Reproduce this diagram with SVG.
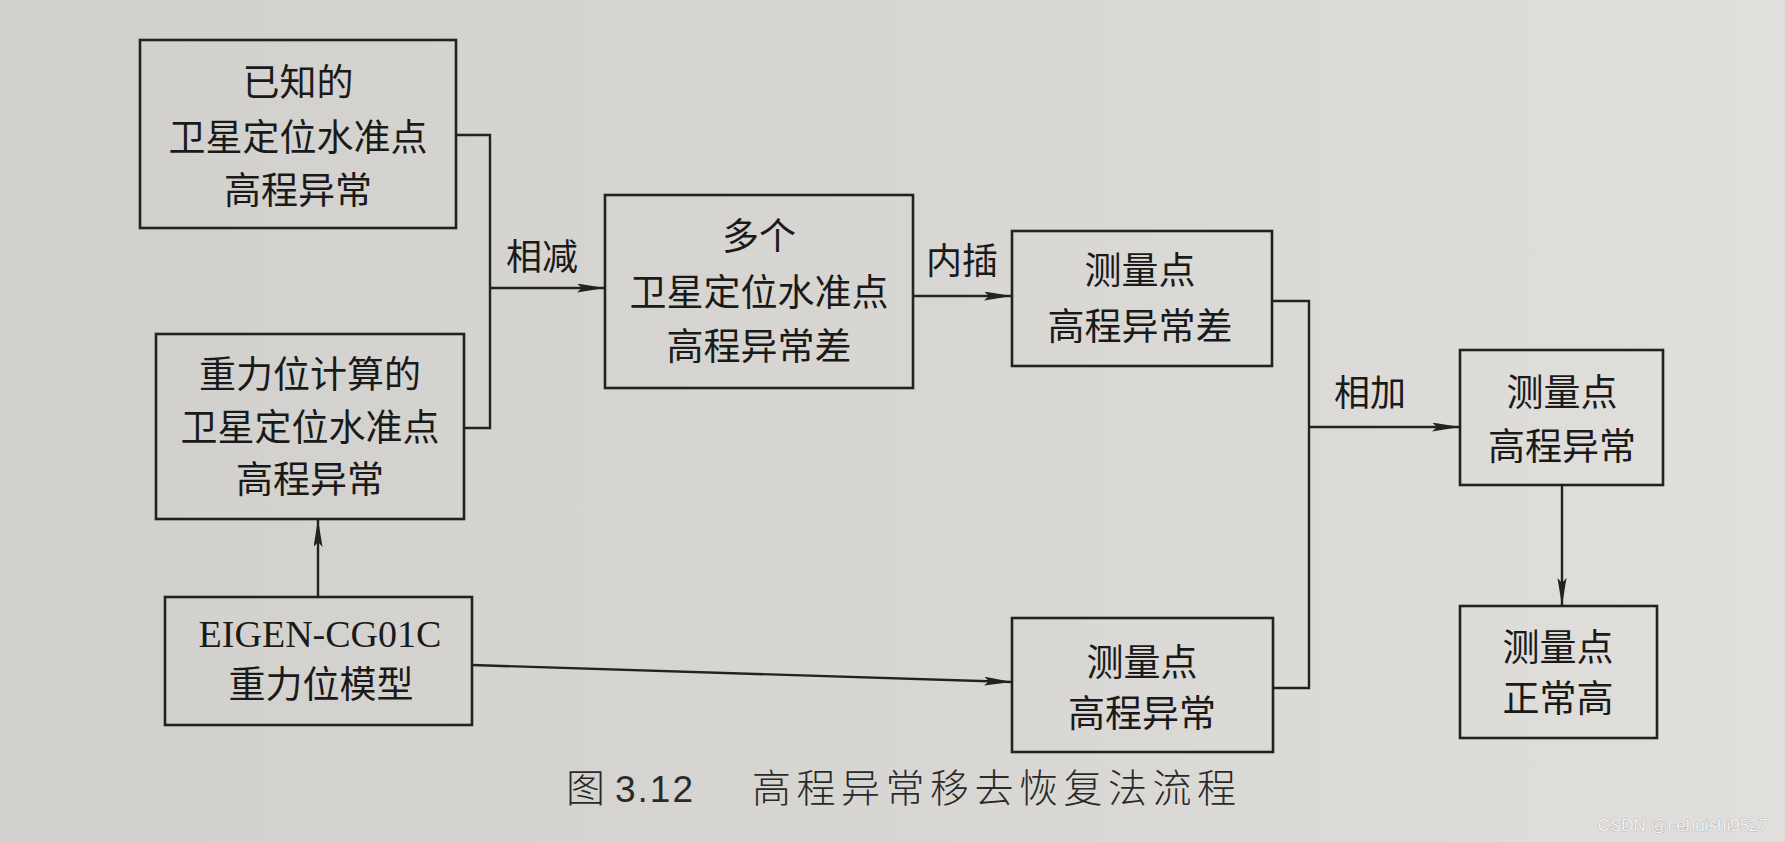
<svg xmlns="http://www.w3.org/2000/svg" width="1785" height="842" viewBox="0 0 1785 842">
<defs>
<linearGradient id="bg" x1="0" y1="0" x2="1" y2="0">
<stop offset="0" stop-color="#d2d0cc"/>
<stop offset="0.5" stop-color="#d8d6d3"/>
<stop offset="1" stop-color="#e0dfdc"/>
</linearGradient>
<marker id="arr" markerUnits="userSpaceOnUse" markerWidth="30" markerHeight="10" refX="28" refY="4.5" orient="auto">
<path d="M0,0 L28,4.5 L0,9 L5,4.5 z" fill="#222"/>
</marker>
<style>
.box{fill:none;stroke:#222;stroke-width:2.6}
.ln{fill:none;stroke:#222;stroke-width:2.4}
.t{font-family:"Noto Sans CJK SC","Noto Sans",sans-serif;font-size:37px;fill:#1a1a1a;text-anchor:middle}
.s{font-family:"Liberation Serif",serif;font-size:38px;fill:#1a1a1a;text-anchor:middle}
.lb{font-family:"Noto Sans CJK SC","Noto Sans",sans-serif;font-size:36px;fill:#1a1a1a;text-anchor:middle}
.cap{font-family:"Noto Sans CJK SC","Noto Sans",sans-serif;font-size:39px;fill:#2a2a2a;font-weight:300}
</style>
</defs>
<rect x="0" y="0" width="1785" height="842" fill="url(#bg)"/>

<g id="connectors">
<polyline class="ln" points="456,135 490,135 490,428 464,428"/>
<line class="ln" x1="490" y1="288" x2="605" y2="288" marker-end="url(#arr)"/>
<line class="ln" x1="318" y1="597" x2="318" y2="519" marker-end="url(#arr)"/>
<line class="ln" x1="913" y1="296" x2="1012" y2="296" marker-end="url(#arr)"/>
<polyline class="ln" points="1272,301 1309,301 1309,688 1273,688"/>
<line class="ln" x1="1309" y1="427" x2="1460" y2="427" marker-end="url(#arr)"/>
<line class="ln" x1="472" y1="665" x2="1012" y2="682" marker-end="url(#arr)"/>
<line class="ln" x1="1562" y1="485" x2="1562" y2="606" marker-end="url(#arr)"/>
<text class="lb" x="542" y="270">相减</text>
<text class="lb" x="962" y="274">内插</text>
<text class="lb" x="1370" y="406">相加</text>
</g>

<g id="n1">
<rect class="box" x="140" y="40" width="316" height="188"/>
<text class="t" x="298" y="96">已知的</text>
<text class="t" x="298" y="151">卫星定位水准点</text>
<text class="t" x="298" y="204">高程异常</text>
</g>

<g id="n2">
<rect class="box" x="156" y="334" width="308" height="185"/>
<text class="t" x="310" y="388">重力位计算的</text>
<text class="t" x="310" y="441">卫星定位水准点</text>
<text class="t" x="310" y="493">高程异常</text>
</g>

<g id="n3">
<rect class="box" x="165" y="597" width="307" height="128"/>
<text class="s" x="320" y="647">EIGEN-CG01C</text>
<text class="t" x="321" y="698">重力位模型</text>
</g>

<g id="n4">
<rect class="box" x="605" y="195" width="308" height="193"/>
<text class="t" x="759" y="250">多个</text>
<text class="t" x="759" y="306">卫星定位水准点</text>
<text class="t" x="759" y="360">高程异常差</text>
</g>

<g id="n5">
<rect class="box" x="1012" y="231" width="260" height="135"/>
<text class="t" x="1140" y="284">测量点</text>
<text class="t" x="1140" y="340">高程异常差</text>
</g>

<g id="n6">
<rect class="box" x="1012" y="618" width="261" height="134"/>
<text class="t" x="1142" y="676">测量点</text>
<text class="t" x="1142" y="727">高程异常</text>
</g>

<g id="n7">
<rect class="box" x="1460" y="350" width="203" height="135"/>
<text class="t" x="1562" y="406">测量点</text>
<text class="t" x="1562" y="460">高程异常</text>
</g>

<g id="n8">
<rect class="box" x="1460" y="606" width="197" height="132"/>
<text class="t" x="1558" y="661">测量点</text>
<text class="t" x="1558" y="712">正常高</text>
</g>

<g id="caption">
<text class="cap" x="566" y="802">图</text>
<text x="615" y="802" font-family="Liberation Sans, sans-serif" font-size="37" fill="#2a2a2a" letter-spacing="2">3.12</text>
<text class="cap" x="752" y="802" letter-spacing="5.5">高程异常移去恢复法流程</text>
</g>

<text x="1768" y="831" text-anchor="end" font-family="Liberation Sans, sans-serif" font-size="17" fill="#f4f4f4" stroke="#9a9a9a" stroke-width="0.6" paint-order="stroke">CSDN @cehuishi9527</text>
</svg>
